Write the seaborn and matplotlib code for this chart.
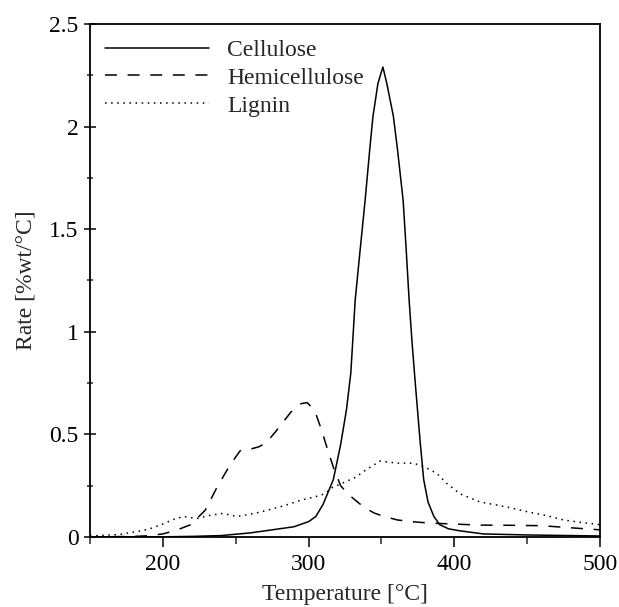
import numpy as np
import pandas as pd
import seaborn as sns
import matplotlib.pyplot as plt
from matplotlib.ticker import MultipleLocator, FormatStrFormatter

# Values (temperature in °C, rate in %wt/°C)
cellulose_t = [150, 200, 220, 240, 260, 280, 290, 300, 305, 310, 317, 322, 326, 329,
               332, 335.4, 338.8, 342, 344.2, 347.6, 351, 353.7, 358.2, 361, 364.9,
               367, 369, 371, 373, 376.5, 379, 382, 386, 390, 396, 404, 420, 450, 500]
cellulose_r = [0, 0.001, 0.003, 0.007, 0.02, 0.04, 0.05, 0.075, 0.1, 0.16, 0.28, 0.45,
               0.62, 0.8, 1.155, 1.40, 1.64, 1.89, 2.05, 2.21, 2.29, 2.21, 2.05, 1.89,
               1.64, 1.40, 1.155, 0.95, 0.77, 0.47, 0.28, 0.17, 0.1, 0.06, 0.04, 0.03,
               0.015, 0.01, 0.005]

hemi_t = [150, 180, 190, 200, 210, 219, 229, 237, 246, 253, 256, 261, 266, 271, 277,
          282, 288, 295, 299, 303, 305, 309, 312, 317, 322, 327, 332, 338, 345, 352,
          361, 372, 383, 400, 418, 440, 460, 480, 500]
hemi_r = [0, 0.003, 0.006, 0.015, 0.035, 0.06, 0.13, 0.24, 0.35, 0.42, 0.43, 0.43,
          0.44, 0.46, 0.51, 0.555, 0.61, 0.65, 0.655, 0.625, 0.60, 0.52, 0.45, 0.34,
          0.25, 0.21, 0.18, 0.145, 0.117, 0.1, 0.083, 0.074, 0.068, 0.063, 0.058,
          0.057, 0.055, 0.045, 0.035]

lignin_t = [150, 170, 185, 191, 200, 207, 214, 223, 232, 241, 251, 259, 266, 274, 282,
            295, 304, 311, 316, 324, 332, 340, 349, 361, 372, 380, 388, 395, 404, 418,
            430, 440, 452, 463, 475, 486, 500]
lignin_r = [0.005, 0.012, 0.03, 0.04, 0.063, 0.085, 0.1, 0.09, 0.105, 0.115, 0.10,
            0.11, 0.12, 0.135, 0.15, 0.18, 0.195, 0.21, 0.24, 0.265, 0.29, 0.33, 0.37,
            0.36, 0.36, 0.34, 0.31, 0.26, 0.21, 0.17, 0.155, 0.14, 0.12, 0.105, 0.083,
            0.072, 0.06]

sns.set_theme(style="ticks")
plt.rcParams['font.family'] = ['Liberation Serif', 'DejaVu Serif']

fig = plt.figure(figsize=(6.19, 6.07), dpi=100)
ax = fig.add_axes([0.1454, 0.1153, 0.8239, 0.8452])

series = [
    ('Cellulose', cellulose_t, cellulose_r, '-'),
    ('Hemicellulose', hemi_t, hemi_r, (0, (7.8, 7))),
    ('Lignin', lignin_t, lignin_r, (0, (1, 3))),
]
for name, t, r, ls in series:
    df = pd.DataFrame({'Temperature': t, 'Rate': r})
    sns.lineplot(data=df, x='Temperature', y='Rate', ax=ax, color='black',
                 linewidth=1.1, linestyle=ls, label=name, sort=False)

ax.set_xlim(150, 500)
ax.set_ylim(0, 2.5)
ax.xaxis.set_major_locator(MultipleLocator(100))
ax.xaxis.set_minor_locator(MultipleLocator(50))
ax.yaxis.set_major_locator(MultipleLocator(0.5))
ax.yaxis.set_minor_locator(MultipleLocator(0.25))
ax.yaxis.set_major_formatter(FormatStrFormatter('%g'))
ax.xaxis.set_major_formatter(FormatStrFormatter('%g'))

for s in ax.spines.values():
    s.set_visible(True)
    s.set_linewidth(1.3)
    s.set_color('black')

ax.tick_params(axis='y', which='major', direction='inout', length=8.6, width=1.1,
               labelsize=17, pad=4, colors='black')
ax.tick_params(axis='y', which='minor', direction='inout', length=5, width=1.1)
ax.tick_params(axis='x', which='major', direction='out', length=7, width=1.1,
               labelsize=17, pad=5, colors='black')
ax.tick_params(axis='x', which='minor', direction='out', length=5, width=1.1)

ax.set_xlabel('Temperature [°C]', fontsize=17, labelpad=7)
ax.set_ylabel('Rate [%wt/°C]', fontsize=17, labelpad=9)

ax.legend(loc='upper left', frameon=False, fontsize=17, handlelength=4.4,
          handletextpad=0.75, labelspacing=0.27, borderaxespad=0.3,
          borderpad=0.35)

fig.savefig('out.png', dpi=100)
